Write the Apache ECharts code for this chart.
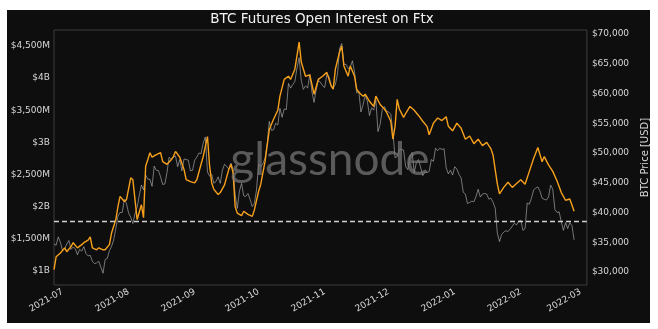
<!DOCTYPE html>
<html>
<head>
<meta charset="utf-8">
<script src="https://cdn.jsdelivr.net/npm/echarts@6/dist/echarts.min.js"></script>
<style>
  html, body { margin: 0; padding: 0; background: #fff; }
  #panel { position: absolute; left: 7px; top: 10px; width: 643px; height: 313px; background: #0e0e0e; }
  #chart { position: absolute; left: 0; top: 0; width: 658px; height: 329px; }
</style>
</head>
<body>
<div id="panel"></div>
<div id="chart"></div>
<script>
// axis range (days shown on the x axis)
const startDay = '2021-06-27'
const endDay = '2022-03-04'

// tick labels
const leftTicks = [1, 1.5, 2, 2.5, 3, 3.5, 4, 4.5]
const leftTickLabels = ['$1B', '$1,500M', '$2B', '$2,500M', '$3B', '$3,500M', '$4B', '$4,500M']
const rightTicks = [30000, 35000, 40000, 45000, 50000, 55000, 60000, 65000, 70000]
const rightTickLabels = ['$30,000', '$35,000', '$40,000', '$45,000', '$50,000', '$55,000', '$60,000', '$65,000', '$70,000']

// futures open interest on ftx, billions USD
const oiDates = [
  '2021-06-27', '2021-06-28', '2021-06-30', '2021-07-02', '2021-07-03', '2021-07-05', '2021-07-06', '2021-07-08',
  '2021-07-10', '2021-07-11', '2021-07-13', '2021-07-14', '2021-07-15', '2021-07-17', '2021-07-18', '2021-07-20',
  '2021-07-21', '2021-07-23', '2021-07-24', '2021-07-26', '2021-07-27', '2021-07-28', '2021-07-30', '2021-07-31',
  '2021-08-02', '2021-08-03', '2021-08-04', '2021-08-05', '2021-08-07', '2021-08-08', '2021-08-09', '2021-08-10',
  '2021-08-11', '2021-08-12', '2021-08-14', '2021-08-16', '2021-08-17', '2021-08-19', '2021-08-21', '2021-08-22',
  '2021-08-23', '2021-08-25', '2021-08-27', '2021-08-28', '2021-08-30', '2021-09-01', '2021-09-02', '2021-09-04',
  '2021-09-05', '2021-09-06', '2021-09-07', '2021-09-08', '2021-09-09', '2021-09-10', '2021-09-12', '2021-09-13',
  '2021-09-15', '2021-09-17', '2021-09-18', '2021-09-19', '2021-09-20', '2021-09-21', '2021-09-23', '2021-09-24',
  '2021-09-26', '2021-09-28', '2021-09-29', '2021-10-01', '2021-10-02', '2021-10-04', '2021-10-06', '2021-10-08',
  '2021-10-10', '2021-10-11', '2021-10-13', '2021-10-15', '2021-10-16', '2021-10-18', '2021-10-20', '2021-10-21',
  '2021-10-23', '2021-10-25', '2021-10-27', '2021-10-29', '2021-10-31', '2021-11-02', '2021-11-04', '2021-11-05',
  '2021-11-06', '2021-11-08', '2021-11-09', '2021-11-10', '2021-11-12', '2021-11-13', '2021-11-15', '2021-11-16',
  '2021-11-17', '2021-11-19', '2021-11-20', '2021-11-22', '2021-11-24', '2021-11-25', '2021-11-27', '2021-11-29',
  '2021-11-30', '2021-12-02', '2021-12-03', '2021-12-04', '2021-12-05', '2021-12-06', '2021-12-08', '2021-12-09',
  '2021-12-11', '2021-12-13', '2021-12-15', '2021-12-17', '2021-12-19', '2021-12-20', '2021-12-22', '2021-12-24',
  '2021-12-26', '2021-12-28', '2021-12-29', '2021-12-31', '2022-01-02', '2022-01-04', '2022-01-06', '2022-01-08',
  '2022-01-10', '2022-01-12', '2022-01-14', '2022-01-16', '2022-01-18', '2022-01-19', '2022-01-21', '2022-01-22',
  '2022-01-24', '2022-01-26', '2022-01-28', '2022-01-30', '2022-02-01', '2022-02-03', '2022-02-05', '2022-02-07',
  '2022-02-09', '2022-02-11', '2022-02-12', '2022-02-14', '2022-02-16', '2022-02-18', '2022-02-20', '2022-02-22',
  '2022-02-24', '2022-02-26'
]
const oiValues = [
  1.02, 1.22, 1.28, 1.36, 1.30, 1.38, 1.44, 1.36,
  1.41, 1.44, 1.48, 1.53, 1.36, 1.33, 1.36, 1.33,
  1.33, 1.41, 1.59, 1.80, 2.00, 2.16, 2.08, 2.11,
  2.45, 2.42, 2.11, 1.80, 2.03, 1.83, 2.63, 2.73,
  2.84, 2.77, 2.81, 2.84, 2.70, 2.66, 2.73, 2.78,
  2.86, 2.77, 2.58, 2.42, 2.39, 2.37, 2.42, 2.66,
  2.78, 2.94, 3.09, 2.63, 2.37, 2.27, 2.19, 2.22,
  2.34, 2.58, 2.66, 2.53, 2.00, 1.90, 1.86, 1.93,
  1.88, 1.85, 1.95, 2.24, 2.35, 2.70, 3.20, 3.36,
  3.50, 3.72, 3.98, 4.03, 3.98, 4.14, 4.56, 4.25,
  4.03, 4.05, 3.75, 3.98, 4.03, 4.09, 3.88, 3.83,
  4.14, 4.41, 4.50, 4.19, 4.03, 4.19, 4.03, 3.83,
  3.78, 3.72, 3.75, 3.64, 3.56, 3.72, 3.59, 3.52,
  3.47, 3.33, 3.05, 3.25, 3.67, 3.52, 3.39, 3.45,
  3.56, 3.50, 3.42, 3.33, 3.25, 3.12, 3.30, 3.38,
  3.34, 3.40, 3.25, 3.18, 3.30, 3.22, 3.05, 3.10,
  2.98, 3.05, 2.95, 3.00, 2.90, 2.80, 2.35, 2.20,
  2.30, 2.38, 2.30, 2.36, 2.42, 2.35, 2.55, 2.75,
  2.92, 2.70, 2.78, 2.65, 2.55, 2.40, 2.22, 2.10,
  2.12, 1.93
]

// btc price, USD, one value per day from priceStart
const priceStart = '2021-06-27'
const priceValues = [
  34700, 34500, 35900, 35000,
  33570, 33900, 34700, 35300, 33800, 34200, 33900, 32900, 33800, 33500, 34260, 33100, 32700, 32800, 31800, 31400,
  31530, 31800, 30800, 29800, 32100, 32300, 33600, 34300, 35400, 37300, 39400, 40000, 40000, 42200, 41500,
  39900, 39200, 38150, 39750, 40870, 42830, 44600, 43800, 46300, 45600, 45580, 44400, 47800, 47100, 47050, 46000,
  44700, 44800, 46700, 49300, 48900, 49300, 49500, 47700, 48900, 47000, 49000, 48900, 48800, 47000, 47100,
  48800, 49300, 50000, 49900, 51700, 52700, 46800, 46100, 46400, 44900, 45200, 46000, 44900, 47100, 48100,
  47750, 47300, 48300, 47260, 43000, 40700, 43600, 44900, 42800, 42700, 43200, 42200, 41000, 41500, 43800,
  48100, 47700, 48200, 49100, 51500, 55300, 53800, 53900, 55000, 54700, 57500, 56000, 57400, 57300, 61700, 60900,
  61500, 62000, 64300, 66000, 62200, 60700, 61300, 60900, 63200, 60300, 58500, 60600, 62200, 61900, 61300,
  61000, 63200, 62900, 61400, 61000, 61500, 63300, 67600, 68400, 64900, 64900, 64200, 64400, 65500, 63600,
  60100, 60400, 56900, 58100, 59700, 58700, 56300, 57600, 57200, 58900, 53600, 54800, 57300, 57800, 57000,
  56900, 56500, 53600, 49200, 49400, 50600, 50600, 50500, 47700, 47200, 49400, 50100, 46700, 48400, 48900, 47600,
  46200, 46800, 46700, 46900, 48900, 48600, 50800, 50400, 50800, 50600, 50700, 47500, 46500, 47100, 46300,
  47700, 47300, 46400, 45800, 43400, 43100, 41500, 41700, 41900, 41800, 42700, 43900, 42600, 43100, 43200, 43100,
  42250, 42400, 41700, 40700, 36500, 35100, 36300, 36700, 36950, 36800, 37200, 37700, 38200, 37900, 38500,
  38700, 37000, 37300, 41600, 41400, 42400, 43800, 44100, 44300, 43600, 42400, 42200, 42100, 42600, 44600, 43900,
  40500, 40000, 40100, 38400, 37000, 38300, 37300, 38300, 37800, 35400
]

// dashed reference level, billions
const refLevel = 1.78

function dayList (from, count, to) {
  let out = []
  let t = Date.parse(from + 'T00:00:00Z')
  let end = to ? Date.parse(to + 'T00:00:00Z') : t + (count - 1) * 86400000
  while (t <= end) {
    out.push(new Date(t).toISOString().slice(0, 10))
    t += 86400000
  }
  return out
}

const days = dayList(startDay, 0, endDay)
const dayIndex = {}
days.forEach((d, i) => { dayIndex[d] = i })

let oiData = days.map(() => null)
oiDates.forEach((d, i) => { oiData[dayIndex[d]] = oiValues[i] })

let priceData = days.map(() => null)
dayList(priceStart, priceValues.length).forEach((d, i) => { priceData[dayIndex[d]] = priceValues[i] })

function tickLabel (ticks, labels) {
  return function (v) {
    for (let i = 0; i < ticks.length; i++) {
      if (Math.abs(ticks[i] - v) < 1e-6 * Math.max(1, ticks[i])) return labels[i]
    }
    return ''
  }
}

const font = 'DejaVu Sans'
const textColor = '#d8d8d8'

let chart = echarts.init(document.getElementById('chart'), null, { renderer: 'canvas' })
chart.setOption({
  animation: false,
  textStyle: { fontFamily: font },
  grid: {
    left: 54, right: 69, top: 30, bottom: 44,
    show: true, borderColor: '#3d3d3d', borderWidth: 1, backgroundColor: 'transparent'
  },
  graphic: [
    {
      type: 'text', x: 322, y: 19, z: 10,
      style: {
        text: 'BTC Futures Open Interest on Ftx', fill: '#f2f2f2',
        font: '13.5px "DejaVu Sans"', textAlign: 'center', textVerticalAlign: 'middle'
      }
    },
    {
      type: 'text', x: 330, y: 160, z: 100, silent: true,
      style: {
        text: 'glassnode', fill: 'rgba(120,120,120,0.72)',
        font: '46px Lato', textAlign: 'center', textVerticalAlign: 'middle'
      }
    }
  ],
  xAxis: {
    type: 'category',
    data: days,
    boundaryGap: false,
    axisLine: { show: false },
    axisTick: { show: false },
    splitLine: { show: false },
    axisLabel: {
      interval: (i, v) => v.slice(8) === '01',
      formatter: (v) => v.slice(0, 7),
      rotate: 30,
      color: textColor,
      fontSize: 9,
      fontFamily: font,
      margin: 6
    }
  },
  yAxis: [
    {
      type: 'value',
      position: 'left',
      min: 0.782,
      max: 4.749,
      splitLine: { show: false },
      axisLine: { show: false },
      axisTick: { show: false },
      axisLabel: {
        customValues: leftTicks,
        formatter: tickLabel(leftTicks, leftTickLabels),
        color: textColor, fontSize: 9, fontFamily: font, margin: 4
      }
    },
    {
      type: 'value',
      position: 'right',
      min: 27815,
      max: 70670,
      name: 'BTC Price [USD]',
      nameLocation: 'middle',
      nameRotate: 90,
      nameGap: 42,
      nameTextStyle: { color: textColor, fontSize: 10, fontFamily: font },
      splitLine: { show: false },
      axisLine: { show: false },
      axisTick: { show: false },
      axisLabel: {
        customValues: rightTicks,
        formatter: tickLabel(rightTicks, rightTickLabels),
        color: textColor, fontSize: 9, fontFamily: font, margin: 5
      }
    }
  ],
  series: [
    {
      name: 'BTC Price',
      type: 'line',
      yAxisIndex: 1,
      data: priceData,
      connectNulls: true,
      showSymbol: false,
      z: 2,
      lineStyle: { color: 'rgba(190,190,190,0.75)', width: 0.8 }
    },
    {
      name: 'Open Interest',
      type: 'line',
      yAxisIndex: 0,
      data: oiData,
      connectNulls: true,
      showSymbol: false,
      z: 3,
      lineStyle: { color: '#f7a01c', width: 1.4 },
      markLine: {
        silent: true,
        symbol: 'none',
        label: { show: false },
        lineStyle: { color: '#d0d0d0', width: 1.4, type: [5, 3] },
        data: [{ yAxis: refLevel }]
      }
    }
  ]
})
</script>
</body>
</html>
